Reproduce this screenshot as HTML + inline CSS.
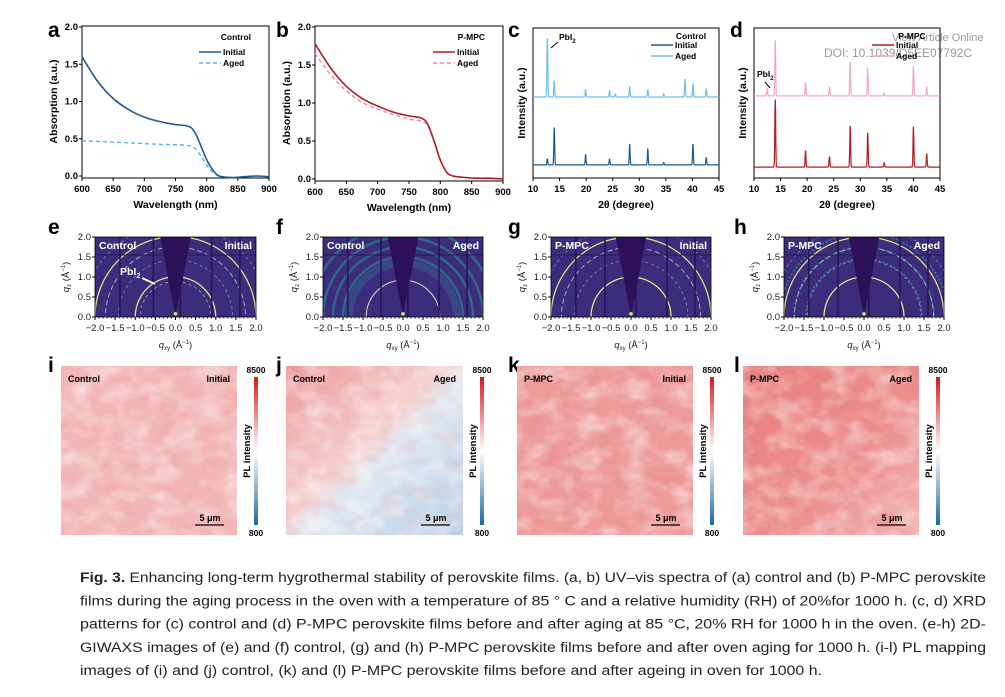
<!DOCTYPE html>
<html><head><meta charset="utf-8"><style>
html,body{margin:0;padding:0;background:#fff;}
svg{display:block;font-family:"Liberation Sans",sans-serif;}
</style></head><body>
<svg id="fig" width="1005" height="697" viewBox="0 0 1005 697" xmlns="http://www.w3.org/2000/svg">
<defs>
<linearGradient id="cbar" x1="0" y1="0" x2="0" y2="1">
<stop offset="0" stop-color="#d7191c"/><stop offset="0.5" stop-color="#ffffff"/><stop offset="1" stop-color="#1f6aa8"/>
</linearGradient>
<linearGradient id="jgrad" x1="0" y1="0" x2="1" y2="1">
<stop offset="0" stop-color="#ec9898"/><stop offset="0.45" stop-color="#f5d0d0"/><stop offset="0.55" stop-color="#dfe8f2"/><stop offset="1" stop-color="#b8cfe6"/>
</linearGradient>
<linearGradient id="lgrad" x1="0" y1="0" x2="1" y2="1">
<stop offset="0" stop-color="#e8807f"/><stop offset="0.6" stop-color="#ec9090"/><stop offset="1" stop-color="#f3b8b8"/>
</linearGradient>
</defs>
<text x="892" y="41" font-size="11" fill="#999">View Article Online</text>
<text x="824" y="57" font-size="12" fill="#999">DOI: 10.1039/D5EE07792C</text>
<g id="root"></g>
</svg>
<script>
// ---------- data ----------
const uvWavelength = [600,625,650,675,700,725,750,770,780,790,800,810,820,840,860,880,900];
const uvControlInitial = [1.6,1.27,1.04,0.89,0.79,0.73,0.69,0.67,0.6,0.42,0.22,0.08,0.0,-0.02,-0.01,0,-0.01];
const uvControlAged = [0.47,0.465,0.455,0.445,0.435,0.425,0.42,0.41,0.38,0.28,0.15,0.05,0.0,-0.02,-0.01,0,-0.01];
const uvMpcInitial = [1.78,1.46,1.22,1.06,0.96,0.88,0.83,0.80,0.72,0.5,0.25,0.09,0.04,0.02,0.01,0.01,0.0];
const uvMpcAged = [1.65,1.37,1.16,1.01,0.92,0.85,0.79,0.76,0.70,0.49,0.25,0.09,0.04,0.02,0.01,0.01,0.0];
const uvTicksX = [600,650,700,750,800,850,900];
const uvTicksY = [0.0,0.5,1.0,1.5,2.0];
const xrdTicksX = [10,15,20,25,30,35,40,45];
const xrdCtrlInitPos = [12.7,14.0,19.9,24.4,28.2,31.6,34.6,40.1,42.6];
const xrdCtrlInitH = [4,25,7,4,14,11,1.5,14,5];
const xrdCtrlAgedPos = [12.7,14.0,19.9,24.4,25.5,28.2,31.6,34.6,38.6,40.1,42.6];
const xrdCtrlAgedH = [40,11,5,4,2,7,5,2,12,9,5];
const xrdMpcInitPos = [14.0,19.7,24.2,28.1,31.4,34.5,40.0,42.5];
const xrdMpcInitH = [45,11,7,28,23,3,27,9];
const xrdMpcAgedPos = [12.5,14.0,19.7,24.2,28.1,31.4,34.5,40.0,42.5];
const xrdMpcAgedH = [5,37,9,6,23,19,2,20,6];
const giwaxsTicksX = [-2.0,-1.5,-1.0,-0.5,0.0,0.5,1.0,1.5,2.0];
const giwaxsTicksY = [0.0,0.5,1.0,1.5,2.0];

const NS='http://www.w3.org/2000/svg';
const root=document.getElementById('root');
function el(tag,attrs,parent,text){const e=document.createElementNS(NS,tag);for(const k in attrs)e.setAttribute(k,attrs[k]);if(text!==undefined)e.textContent=text;(parent||root).appendChild(e);return e;}
function lin(d0,d1,r0,r1){return v=>r0+(v-d0)/(d1-d0)*(r1-r0);}
function smoothPath(pts){let d='M'+pts[0][0].toFixed(1)+','+pts[0][1].toFixed(1);for(let i=0;i<pts.length-1;i++){const p0=pts[Math.max(0,i-1)],p1=pts[i],p2=pts[i+1],p3=pts[Math.min(pts.length-1,i+2)];const c1=[p1[0]+(p2[0]-p0[0])/6,p1[1]+(p2[1]-p0[1])/6],c2=[p2[0]-(p3[0]-p1[0])/6,p2[1]-(p3[1]-p1[1])/6];d+=`C${c1[0].toFixed(1)},${c1[1].toFixed(1)} ${c2[0].toFixed(1)},${c2[1].toFixed(1)} ${p2[0].toFixed(1)},${p2[1].toFixed(1)}`;}return d;}

function panelLetter(t,x,y){const e=el('text',{x:x,y:y,'font-size':21,'font-weight':'bold'},root,t);

}

// ---------- UV panels ----------
function uvPanel(id,x0,x1,y0,y1,sInit,sAged,cInit,cAged,title){
  const g=el('g',{});
  
  
  const X=lin(600,900,x0,x1),Y=lin(0,2,y1,y0);
  el('rect',{x:x0,y:y0-1,width:x1-x0,height:y1-y0+3,fill:'none',stroke:'#000','stroke-width':1},g);
  uvTicksX.forEach(t=>{el('line',{x1:X(t),x2:X(t),y1:y1+2,y2:y1+5,stroke:'#000'},g);
    const tl=el('text',{x:X(t),y:y1+16,'font-size':9.5,'font-weight':'bold','text-anchor':'middle'},g,t);
    
    });
  uvTicksY.forEach(t=>{el('line',{x1:x0-3,x2:x0,y1:Y(t),y2:Y(t),stroke:'#000'},g);
    const tl=el('text',{x:x0-4,y:Y(t)+3,'font-size':9.5,'font-weight':'bold','text-anchor':'end'},g,t.toFixed(1));
    
    });
  const xt=el('text',{x:(x0+x1)/2,y:y1+32,'font-size':10.5,'font-weight':'bold','text-anchor':'middle'},g,'Wavelength (nm)');
  
  
  const yt=el('text',{x:0,y:0,'font-size':10.5,'font-weight':'bold','text-anchor':'middle',transform:`translate(${x0-25},${(y0+y1)/2}) rotate(-90)`},g,'Absorption (a.u.)');
  
  
  const pa=el('path',{d:smoothPath(uvWavelength.map((w,i)=>[X(w),Y(sAged[i])])),fill:'none',stroke:cAged,'stroke-width':1.4,'stroke-dasharray':'4,3'},g);
  
  
  const pi=el('path',{d:smoothPath(uvWavelength.map((w,i)=>[X(w),Y(sInit[i])])),fill:'none',stroke:cInit,'stroke-width':1.6},g);
  
  
  const lx=x1-60;
  el('text',{x:x1-18,y:y0+13,'font-size':8.5,'font-weight':'bold','text-anchor':'end'},g,title);
  el('line',{x1:lx-10,x2:lx+12,y1:y0+25,y2:y0+25,stroke:cInit,'stroke-width':1.6},g);
  el('text',{x:lx+14,y:y0+28,'font-size':8.5,'font-weight':'bold'},g,'Initial');
  el('line',{x1:lx-10,x2:lx+12,y1:y0+36,y2:y0+36,stroke:cAged,'stroke-width':1.4,'stroke-dasharray':'4,3'},g);
  el('text',{x:lx+14,y:y0+39,'font-size':8.5,'font-weight':'bold'},g,'Aged');
}
panelLetter('a',48,37);
uvPanel('a',82,269,27,176,uvControlInitial,uvControlAged,'#1f5b8f','#5cb2e0','Control');
panelLetter('b',276,37);
uvPanel('b',315,503,27,179,uvMpcInitial,uvMpcAged,'#b01d22','#e48aa8','P-MPC');

// ---------- XRD ----------
function xrdPanel(id,x0,x1,y0,y1,posA,hA,baseA,colA,posB,hB,baseB,colB,title){
  const g=el('g',{});
  
  
  const X=lin(10,45,x0,x1),Y=lin(0,100,y1,y0);
  el('rect',{x:x0,y:y0,width:x1-x0,height:y1-y0,fill:'none',stroke:'#000'},g);
  xrdTicksX.forEach(t=>{el('line',{x1:X(t),x2:X(t),y1:y1,y2:y1+3,stroke:'#000'},g);
    const tl=el('text',{x:X(t),y:y1+14,'font-size':9.5,'font-weight':'bold','text-anchor':'middle'},g,t);
    
    });
  const xt=el('text',{x:(x0+x1)/2,y:y1+30,'font-size':10.5,'font-weight':'bold','text-anchor':'middle'},g,'2θ (degree)');
  
  
  const yt=el('text',{x:0,y:0,'font-size':10.5,'font-weight':'bold','text-anchor':'middle',transform:`translate(${x0-8},${(y0+y1)/2}) rotate(-90)`},g,'Intensity (a.u.)');
  
  
  function trace(pos,h,base,col,name){let pts=[];for(let t=10;t<=45.001;t+=0.04){let v=base;pos.forEach((p,i)=>{v+=h[i]*Math.exp(-Math.pow((t-p)/0.11,2));});pts.push(X(t).toFixed(1)+','+Y(v).toFixed(1));}
    const p=el('polyline',{points:pts.join(' '),fill:'none',stroke:col,'stroke-width':1.2},g);
    
    }
  trace(posA,hA,baseA,colA,'initial-pattern');
  trace(posB,hB,baseB,colB,'aged-pattern');
  const lx=x1-58;
  el('text',{x:x1-28,y:y0+11,'font-size':8.5,'font-weight':'bold','text-anchor':'middle'},g,title);
  el('line',{x1:lx-10,x2:lx+12,y1:y0+17,y2:y0+17,stroke:colA,'stroke-width':1.6},g);
  el('text',{x:lx+14,y:y0+20,'font-size':8.5,'font-weight':'bold'},g,'Initial');
  el('line',{x1:lx-10,x2:lx+12,y1:y0+28,y2:y0+28,stroke:colB,'stroke-width':1.6},g);
  el('text',{x:lx+14,y:y0+31,'font-size':8.5,'font-weight':'bold'},g,'Aged');
  return {g,X,Y};
}
panelLetter('c',508,37);
const c=xrdPanel('c',533,719,28,178,xrdCtrlInitPos,xrdCtrlInitH,8.7,'#1f5b8f',xrdCtrlAgedPos,xrdCtrlAgedH,54,'#6ec0ea','Control');
{const t=el('text',{x:559,y:40,'font-size':8.5,'font-weight':'bold'},c.g,'PbI');el('tspan',{'font-size':6,dy:3},t,'2');
 el('line',{x1:558,y1:42,x2:551,y2:48,stroke:'#000'},c.g);}
panelLetter('d',730,37);
const d=xrdPanel('d',754,940,28,178,xrdMpcInitPos,xrdMpcInitH,7.3,'#b01d22',xrdMpcAgedPos,xrdMpcAgedH,54.7,'#f0a8c8','P-MPC');
{const t=el('text',{x:757,y:77,'font-size':8.5,'font-weight':'bold'},d.g,'PbI');el('tspan',{'font-size':6,dy:3},t,'2');
 el('line',{x1:765,y1:82,x2:770,y2:88,stroke:'#000'},d.g);}

// ---------- GIWAXS ----------
function giwaxs(id,x0,x1,y0,y1,left,right,rings,gaps,aged){
  const g=el('g',{});
  
  
  const X=lin(-2,2,x0,x1),Y=lin(0,2,y1,y0);
  const cid='clip'+id;const cp=el('clipPath',{id:cid},g);el('rect',{x:x0,y:y0,width:x1-x0,height:y1-y0},cp);
  const inner=el('g',{'clip-path':`url(#${cid})`},g);
  el('rect',{x:x0,y:y0,width:x1-x0,height:y1-y0,fill:'#3b2c7c'},inner);
  const sx=(x1-x0)/4;
  if(aged===1){[1.5,1.75,2.0,2.3].forEach((r,i)=>el('circle',{cx:X(0),cy:Y(0),r:r*sx,fill:'none',stroke:'#2a8f90','stroke-width':2.5,opacity:0.6},inner));
    el('circle',{cx:X(0),cy:Y(0),r:1.35*sx,fill:'none',stroke:'#3a7a98','stroke-width':8,opacity:0.35},inner);}
  if(aged===2){[1.45,1.75,2.1].forEach(r=>el('circle',{cx:X(0),cy:Y(0),r:r*sx,fill:'none',stroke:'#3aa6a0','stroke-width':1.6,opacity:0.7,'stroke-dasharray':'2,2'},inner));}
  rings.forEach(r=>{const ci=el('circle',{cx:X(0),cy:Y(0),r:r[0]*sx,fill:'none',stroke:r[1],'stroke-width':r[2],'stroke-dasharray':r[3]||'none'},inner);
    
    });
  el('path',{d:`M${X(-0.38)},${y0} L${X(0.38)},${y0} L${X(0.02)},${Y(0.12)} L${X(-0.02)},${Y(0.12)} Z`,fill:'#2d0f5a'},inner);
  gaps.forEach(q=>el('line',{x1:X(q),x2:X(q),y1:y0,y2:y1,stroke:'#2a1456','stroke-width':1.6},inner));
  el('line',{x1:x0,x2:x1,y1:Y(1.55),y2:Y(1.55),stroke:'#2a1456','stroke-width':1},inner);
  el('circle',{cx:X(0),cy:Y(0.08),r:1.8,fill:'#c8e870'},inner);
  el('rect',{x:x0,y:y0,width:x1-x0,height:y1-y0,fill:'none',stroke:'#000','stroke-width':0.8},g);
  giwaxsTicksX.forEach(t=>{el('line',{x1:X(t),x2:X(t),y1:y1,y2:y1+3,stroke:'#000'},g);
    const tl=el('text',{x:X(t),y:y1+14,'font-size':9.5,'text-anchor':'middle',fill:'#222'},g,t.toFixed(1).replace('-','−'));
    
    });
  for(let t=-2;t<=2.001;t+=0.1)el('line',{x1:X(t),x2:X(t),y1:y1,y2:y1+1.8,stroke:'#000','stroke-width':0.6},g);
  giwaxsTicksY.forEach(t=>{el('line',{x1:x0-3,x2:x0,y1:Y(t),y2:Y(t),stroke:'#000'},g);
    const tl=el('text',{x:x0-4,y:Y(t)+3,'font-size':9.5,'text-anchor':'end',fill:'#222'},g,t.toFixed(1));
    
    });
  const xt=el('text',{x:(x0+x1)/2,y:y1+31,'font-size':9.5,'text-anchor':'middle',fill:'#222'},g);
  el('tspan',{'font-style':'italic'},xt,'q');el('tspan',{'font-size':6,dy:2},xt,'xy');el('tspan',{dy:-2},xt,' (Å');el('tspan',{'font-size':6,dy:-4},xt,'−1');el('tspan',{dy:4},xt,')');
  
  
  const yt=el('text',{'font-size':9.5,'text-anchor':'middle',fill:'#222',transform:`translate(${x0-26},${(y0+y1)/2}) rotate(-90)`},g);
  el('tspan',{'font-style':'italic'},yt,'q');el('tspan',{'font-size':6,dy:2},yt,'z');el('tspan',{dy:-2},yt,' (Å');el('tspan',{'font-size':6,dy:-4},yt,'−1');el('tspan',{dy:4},yt,')');
  
  
  el('text',{x:x0+4,y:y0+12,'font-size':10.5,'font-weight':'bold',fill:'#fff'},g,left);
  el('text',{x:x1-4,y:y0+12,'font-size':10.5,'font-weight':'bold',fill:'#fff','text-anchor':'end'},g,right);
  return {g,X,Y};
}
const ringsBase=[[1.0,'#e8e88a',1.3],[1.42,'#9a96c8',0.7,'3,3'],[1.74,'#c8c8c0',0.8,'5,3'],[2.0,'#e8e88a',1.2],[2.3,'#8f8cc0',0.7,'3,3']];
panelLetter('e',48,234);
const e=giwaxs('e',95,256,237,317,'Control','Initial',[[0.88,'#b8b8d8',0.7,'3,3']].concat(ringsBase),[-1.38,-0.55,0.12,0.9,1.6],0);
{const t=el('text',{x:120,y:275,'font-size':10.5,'font-weight':'bold',fill:'#fff'},e.g,'PbI');el('tspan',{'font-size':7,dy:3},t,'2');
 el('line',{x1:142,y1:278,x2:155,y2:284,stroke:'#fff','stroke-width':1.8},e.g);}
panelLetter('f',276,234);
giwaxs('f',323,483,237,317,'Control','Aged',[[0.92,'#e0e0b0',1.0]],[-1.38,-0.55,0.12,0.9,1.6],1);
panelLetter('g',508,234);
giwaxs('g',551,711,237,317,'P-MPC','Initial',ringsBase,[-1.38,-0.65,0.12,0.9,1.6],0);
panelLetter('h',734,234);
giwaxs('h',784,944,237,317,'P-MPC','Aged',ringsBase,[-1.38,-0.65,0.12,0.9,1.6],2);

// ---------- PL maps ----------
function plMap(id,x0,y0,w,h,left,right,fill,seed,extra){
  const g=el('g',{});
  
  
  el('rect',{x:x0,y:y0,width:w,height:h,fill:fill},g);
  const f=el('filter',{id:'f'+id,x:0,y:0,width:1,height:1},g);
  el('feTurbulence',{type:'fractalNoise',baseFrequency:'0.04 0.06',numOctaves:3,seed:seed},f);
  el('feColorMatrix',{type:'matrix',values:'0 0 0 0 1  0 0 0 0 1  0 0 0 0 1  0 0 0 1.3 -0.5'},f);
  el('rect',{x:x0,y:y0,width:w,height:h,filter:`url(#f${id})`,opacity:0.8},g);
  const f2=el('filter',{id:'r'+id,x:0,y:0,width:1,height:1},g);
  el('feTurbulence',{type:'fractalNoise',baseFrequency:'0.05 0.07',numOctaves:2,seed:seed+11},f2);
  el('feColorMatrix',{type:'matrix',values:'0 0 0 0 0.86  0 0 0 0 0.2  0 0 0 0 0.2  0 0 0 1.5 -0.7'},f2);
  el('rect',{x:x0,y:y0,width:w,height:h,filter:`url(#r${id})`,opacity:extra},g);
  el('text',{x:x0+7,y:y0+16,'font-size':9,'font-weight':'bold'},g,left);
  el('text',{x:x0+w-7,y:y0+16,'font-size':9,'font-weight':'bold','text-anchor':'end'},g,right);
  el('line',{x1:x0+w-42,x2:x0+w-13,y1:y0+h-10,y2:y0+h-10,stroke:'#000','stroke-width':1.3},g);
  el('text',{x:x0+w-27,y:y0+h-14,'font-size':9,'font-weight':'bold','text-anchor':'middle'},g,'5 μm');
  const cx=x0+w+17;
  const cb=el('rect',{x:cx,y:377,width:4,height:148,fill:'url(#cbar)'},g);
  
  
  el('text',{x:cx+2,y:373,'font-size':8.5,'font-weight':'bold','text-anchor':'middle'},g,'8500');
  el('text',{x:cx+2,y:536,'font-size':8.5,'font-weight':'bold','text-anchor':'middle'},g,'800');
  el('text',{'font-size':9.5,'font-weight':'bold','text-anchor':'middle',transform:`translate(${cx-4},451) rotate(-90)`},g,'PL intensity');
}
panelLetter('i',48,372);
plMap('i',61,366,176,169,'Control','Initial','#f2b6b6',2,0.3);
panelLetter('j',276,372);
plMap('j',286,366,177,169,'Control','Aged','url(#jgrad)',5,0.3);
panelLetter('k',508,372);
plMap('k',517,366,176,169,'P-MPC','Initial','#ed9a9a',7,0.5);
panelLetter('l',734,372);
plMap('l',743,366,176,169,'P-MPC','Aged','url(#lgrad)',9,0.5);

// ---------- caption ----------
const cap=el('g',{'font-size':14.2,fill:'#222'});


const lines=[
 ['Fig. 3.',' Enhancing long-term hygrothermal stability of perovskite films. (a, b) UV–vis spectra of (a) control and (b) P-MPC perovskite'],
 ['','films during the aging process in the oven with a temperature of 85 ° C and a relative humidity (RH) of 20%for 1000 h. (c, d) XRD'],
 ['','patterns for (c) control and (d) P-MPC perovskite films before and after aging at 85 °C, 20% RH for 1000 h in the oven. (e-h) 2D-'],
 ['','GIWAXS images of (e) and (f) control, (g) and (h) P-MPC perovskite films before and after oven aging for 1000 h. (i-l) PL mapping'],
 ['','images of (i) and (j) control, (k) and (l) P-MPC perovskite films before and after ageing in oven for 1000 h.']];
lines.forEach((l,i)=>{const y=582+i*23.3;const last=i===4;
  const t=el('text',{x:80,y:y},cap);
  t.setAttribute('textLength',last?742:906);
  t.setAttribute('lengthAdjust','spacingAndGlyphs');
  if(l[0])el('tspan',{'font-weight':'bold'},t,l[0]);
  el('tspan',{},t,l[1]);});
</script>
</body></html>
